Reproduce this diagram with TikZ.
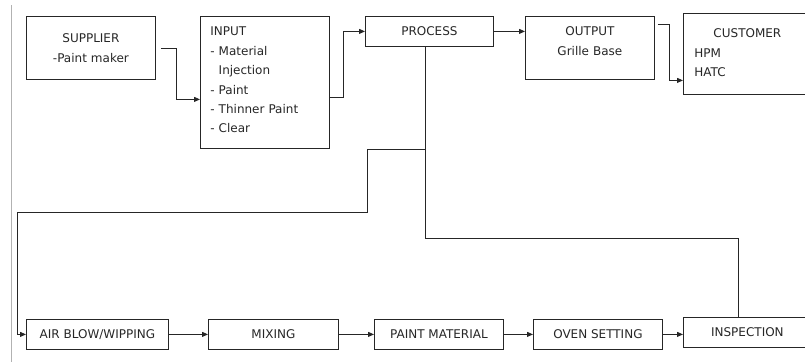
\documentclass[tikz,border=0pt]{standalone}
\usepackage{fontspec}
\setmainfont{DejaVu Sans}
\usetikzlibrary{arrows.meta}

\begin{document}
\begin{tikzpicture}[
    x=1pt, y=-1pt,
    box/.style={draw=black!85, line width=0.8pt, anchor=north west, inner xsep=0pt, inner ysep=0pt, text=black!85, font=\fontsize{12}{19.4}\selectfont},
    stagebox/.style={box, minimum width=#1, minimum height=30pt, text height=8.7pt, text depth=0pt},
    line/.style={draw=black!85, line width=0.8pt},
    link/.style={line, -{Triangle[length=6pt, width=5pt]}}
]
\useasboundingbox (0,0) rectangle (805,362);
\draw[gray!60, line width=0.8pt] (11,5) -- (11,362);

% top row
\node[box, text width=129pt, align=center, text height=26.4pt, text depth=36.6pt] (supplier) at (26,16) {SUPPLIER\\-Paint maker};
\node[box, inner xsep=10pt, text width=109pt, align=left, text height=19.4pt, text depth=112.6pt] (input) at (200,16) {INPUT\\- Material\\\phantom{- }Injection\\- Paint\\- Thinner Paint\\- Clear};
\node[stagebox=128pt] (process) at (365,16) {PROCESS};
\node[box, text width=129pt, align=center, text height=19.4pt, text depth=43.6pt] (output) at (525,16) {OUTPUT\\Grille Base};
\node[box, inner xsep=11pt, text width=106pt, align=left, text height=24.4pt, text depth=56.6pt] (customer) at (683,13) {\makebox[\linewidth]{CUSTOMER}\\HPM\\HATC};

% bottom row
\node[stagebox=142pt] (airblow) at (26,319) {AIR BLOW/WIPPING};
\node[stagebox=130pt] (mixing) at (208,319) {MIXING};
\node[stagebox=129pt] (paint) at (374,319) {PAINT MATERIAL};
\node[stagebox=129pt] (oven) at (533,319) {OVEN SETTING};
\node[stagebox=128pt] (inspection) at (683,317) {INSPECTION};

\coordinate (tap) at (425,149);
\coordinate (jog) at (367,212);
\coordinate (rail) at (17,212);
\coordinate (bend) at (738,238);

\draw[link] ([xshift=5pt]supplier.east) -- ++(16,0) |- ([yshift=-17pt]input.west);
\draw[link] ([yshift=-15pt]input.east) -- ++(14,0) |- (process.west);
\draw[link] (process.east) -- (output.west |- process.east);
\draw[link] ([xshift=3pt,yshift=-8pt]output.north east) -- ++(12,0) |- ([yshift=-26.5pt]customer.west);

\draw[line] ([xshift=-4pt]process.south) |- (bend) -- (bend |- inspection.north);
\draw[link] (tap) -| (jog) -- (rail) |- (airblow.west);

\draw[link] (airblow) -- (mixing);
\draw[link] (mixing) -- (paint);
\draw[link] (paint) -- (oven);
\draw[link] (oven.east) -- (oven.east -| inspection.west);
\end{tikzpicture}
\end{document}
